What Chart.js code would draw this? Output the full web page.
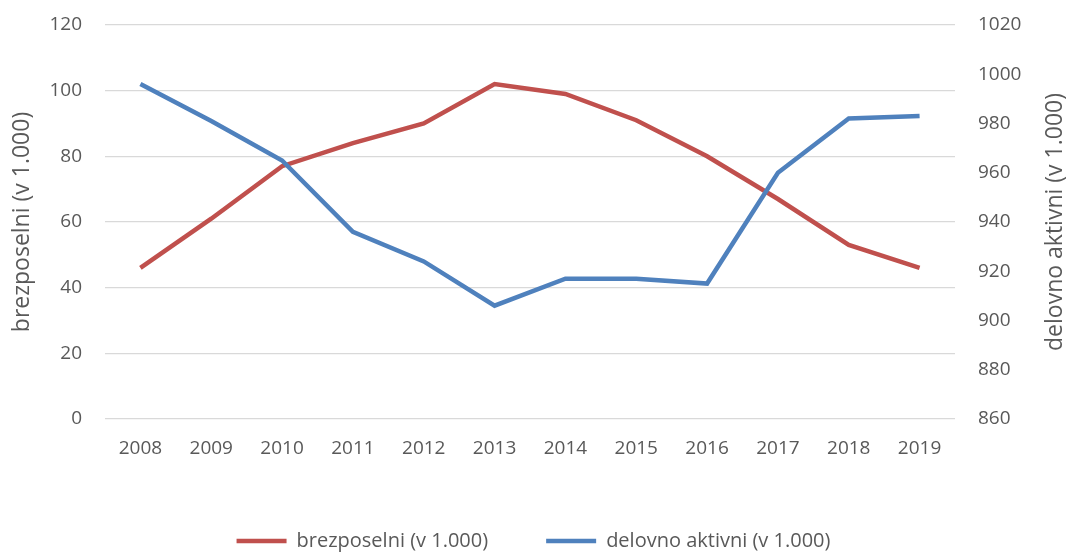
<!DOCTYPE html>
<html>
<head>
<meta charset="utf-8">
<script src="https://cdn.jsdelivr.net/npm/chart.js@4.4.1/dist/chart.umd.min.js"></script>
<style>
  html, body { margin: 0; padding: 0; background: #fff; }
  #wrap { width: 1067px; height: 552px; }
</style>
</head>
<body>
<div id="wrap"><canvas id="chart"></canvas></div>
<script>
// data
const years = ["2008", "2009", "2010", "2011", "2012", "2013", "2014", "2015", "2016", "2017", "2018", "2019"];
const brezposelni = [46, 61, 77, 84, 90, 102, 99, 91, 80, 67, 53, 46];
const delovnoAktivni = [996, 981, 965, 936, 924, 906, 917, 917, 915, 960, 982, 983];

const leftLabel = "brezposelni (v 1.000)";
const rightLabel = "delovno aktivni (v 1.000)";

const RED = "#c0504d";
const BLUE = "#4f81bd";
const GREY_TEXT = "#595959";

Chart.defaults.font.family = "'Open Sans', sans-serif";
Chart.defaults.font.size = 19;
Chart.defaults.color = GREY_TEXT;

// right axis title reads bottom-to-top like the left one
const rightTitle = {
  id: "rightTitle",
  afterDraw(chart) {
    const c = chart.ctx;
    const area = chart.chartArea;
    c.save();
    c.translate(1055, (area.top + area.bottom) / 2);
    c.rotate(-Math.PI / 2);
    c.font = "23px 'Open Sans', sans-serif";
    c.fillStyle = GREY_TEXT;
    c.textAlign = "center";
    c.textBaseline = "middle";
    c.fillText(rightLabel, 0, 0);
    c.restore();
  },
};

// tick padding would otherwise push the plot area down
function fixWidth(w) {
  return (scale) => {
    scale.width = w;
    scale.paddingTop = 9;
    scale.paddingBottom = 0;
  };
}

const ctx = document.getElementById("chart").getContext("2d");

new Chart(ctx, {
  type: "line",
  data: {
    labels: years,
    // blue first so it is drawn on top, legend reversed to keep red first
    datasets: [
      {
        label: rightLabel,
        data: delovnoAktivni,
        yAxisID: "y1",
        borderColor: BLUE,
        backgroundColor: BLUE,
        borderWidth: 4.5,
        pointRadius: 0,
        fill: false,
        tension: 0,
      },
      {
        label: leftLabel,
        data: brezposelni,
        yAxisID: "y",
        borderColor: RED,
        backgroundColor: RED,
        borderWidth: 4.5,
        pointRadius: 0,
        fill: false,
        tension: 0,
      },
    ],
  },
  options: {
    responsive: true,
    maintainAspectRatio: false,
    animation: false,
    layout: { padding: { top: 25, bottom: -9 } },
    plugins: {
      tooltip: { enabled: false },
      legend: {
        position: "bottom",
        reverse: true,
        labels: {
          usePointStyle: true,
          pointStyle: "line",
          pointStyleWidth: 50,
          padding: 58,
          font: { size: 20 },
          color: GREY_TEXT,
        },
      },
    },
    scales: {
      x: {
        offset: true,
        grid: { display: false },
        border: { display: false },
        ticks: { padding: 10, font: { size: 19 }, maxRotation: 0 },
        afterFit: (scale) => { scale.height = 54; },
      },
      y: {
        position: "left",
        min: 0,
        max: 120,
        ticks: { stepSize: 20, padding: 23 },
        grid: { color: "#d9d9d9", lineWidth: 1.2, drawTicks: false },
        border: { display: false },
        title: { display: true, text: leftLabel, font: { size: 23 }, padding: { top: 9, bottom: 0 } },
        afterFit: fixWidth(105),
      },
      y1: {
        position: "right",
        min: 860,
        max: 1020,
        ticks: { stepSize: 20, padding: 23, callback: (v) => String(v) },
        grid: { drawOnChartArea: false, drawTicks: false },
        border: { display: false },
        afterFit: fixWidth(112),
      },
    },
  },
  plugins: [rightTitle],
});
</script>
</body>
</html>
